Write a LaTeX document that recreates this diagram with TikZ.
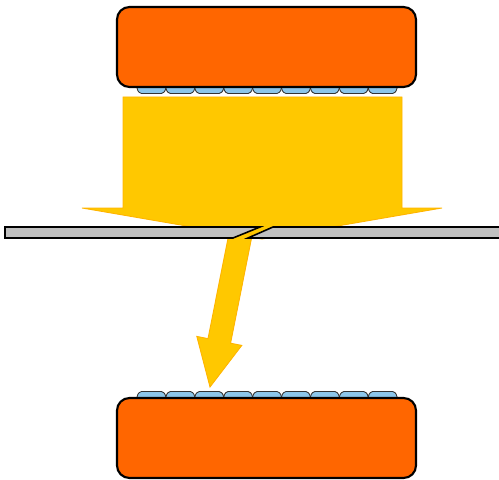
\documentclass[tikz,border=0pt]{standalone}
\usepackage{tikz}
\usetikzlibrary{calc}
\definecolor{dieorange}{HTML}{FF6600}
\definecolor{beamyellow}{HTML}{FFC800}
\definecolor{beamedge}{HTML}{FFB400}
\definecolor{padblue}{HTML}{8CC6EA}
\definecolor{sheetgray}{HTML}{C0C0C0}
\tikzstyle{diebox} = [draw=black, fill=dieorange, line width=1.2pt, rounded corners=0.25cm]
\tikzstyle{padcell} = [draw=black!80, fill=padblue, line width=0.5pt, rounded corners=0.03cm]
\tikzstyle{beam} = [draw=beamedge, fill=beamyellow, line width=0.5pt, line join=miter]
\tikzstyle{sheet} = [draw=black, fill=sheetgray, line width=0.9pt, line join=miter]

\begin{document}
\begin{tikzpicture}[x=0.02cm, y=-0.02cm]
    \useasboundingbox (0,0) rectangle (499,479);
    % pads under the upper die
    \foreach \i in {0,...,8} {
        \pgfmathsetmacro{\xa}{137+\i*28.9}
        \draw[padcell] (\xa,84) -- (\xa,89.5) -- (\xa+3,93.5) -- (\xa+25.9,93.5) -- (\xa+28.9,89.5) -- (\xa+28.9,84);
    }
    \draw[diebox] (117,7) rectangle (416,87);
    % wide beam onto the sheet
    \draw[beam] (123,97) -- (402,97) -- (402,208) -- (442,208) -- (262,239) -- (82,208) -- (123,208) -- cycle;
    % narrow beam through the cut
    \draw[beam] (229.7,229.7) -- (208.0,338.6) -- (196.8,336.4) -- (210,387) -- (241.8,345.4) -- (230.6,343.2) -- (252.3,234.3) -- cycle;
    % sheet with the slanted cut
    \coordinate (cutla) at (260,227);
    \coordinate (cutlb) at (233,238);
    \coordinate (cutra) at (273,227);
    \coordinate (cutrb) at (248,238);
    \draw[sheet] (cutla) -- (5,227) -- (5,238) -- (cutlb) -- cycle;
    \draw[sheet] (cutra) -- (504,227) -- (504,238) -- (cutrb) -- cycle;
    % pads on the lower die
    \foreach \i in {0,...,8} {
        \pgfmathsetmacro{\xa}{137+\i*28.9}
        \draw[padcell] (\xa,401) -- (\xa,395.5) -- (\xa+3,391.5) -- (\xa+25.9,391.5) -- (\xa+28.9,395.5) -- (\xa+28.9,401);
    }
    \draw[diebox] (117,398) rectangle (416,478);
\end{tikzpicture}
\end{document}
